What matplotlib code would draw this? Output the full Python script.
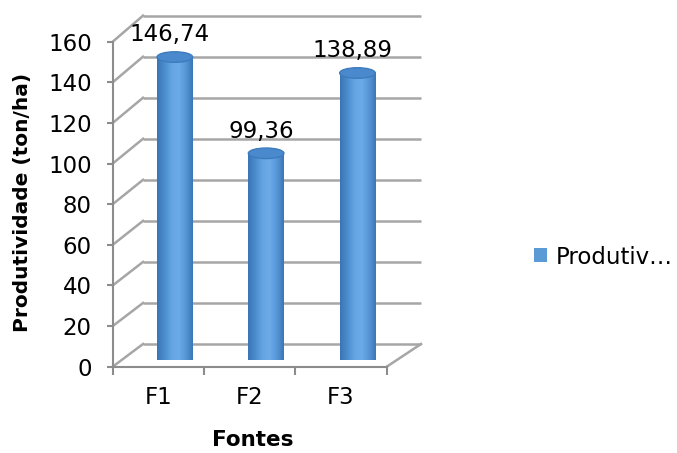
import numpy as np
import matplotlib
matplotlib.use("Agg")
import matplotlib.pyplot as plt
from matplotlib import font_manager
from matplotlib.colors import LinearSegmentedColormap
from matplotlib.patches import Ellipse, PathPatch, Patch
from matplotlib.path import Path

categories = ["F1", "F2", "F3"]
values = [146.74, 99.36, 138.89]
y_ticks = [0, 20, 40, 60, 80, 100, 120, 140, 160]
series_name = "Produtiv…"
x_title = "Fontes"
y_title = "Produtividade (ton/ha)"

GRID = "#a6a6a6"
AXIS = "#8c8c8c"
FS = 16.5

# the axis titles are set in a narrow bold face in the reference
names = {f.name for f in font_manager.fontManager.ttflist}
if "Liberation Sans Narrow" in names:
    title_family, ytitle_size, xtitle_size = "Liberation Sans Narrow", 18.5, 17.5
else:
    title_family, ytitle_size, xtitle_size = "DejaVu Sans", 14.5, 15.5

# pseudo-3d box: front plane is the axes, back wall is shifted up/right
DEPTH_X = 0.332
BACK_RIGHT = 3.376


def back_y(v):
    return v * 1.0103 + 11.18


fig = plt.figure(figsize=(6.77, 4.53), dpi=100)
ax = fig.add_axes([112.7 / 677, 1 - 366.7 / 453, 274 / 677, 325 / 453])

# back wall, left wall and floor lines
for t in y_ticks:
    ax.plot([DEPTH_X, BACK_RIGHT], [back_y(t), back_y(t)], color=GRID, lw=1.8,
            clip_on=False, zorder=1, solid_capstyle="butt")
    ax.plot([0, DEPTH_X], [t, back_y(t)], color=GRID, lw=1.8, clip_on=False, zorder=1)
ax.plot([len(categories), BACK_RIGHT], [0, back_y(0)], color=GRID, lw=1.8, clip_on=False, zorder=1)

# cylinders
cmap = LinearSegmentedColormap.from_list(
    "cyl", ["#3a74b4", "#4b8cce", "#64a4e2", "#6cabe8", "#5797d7", "#3b76b6"])
grad = np.linspace(0, 1, 256).reshape(1, -1)
half_w = 0.195
ell_h = 5.2
base = 5.7
theta = np.linspace(np.pi, 2 * np.pi, 40)

for i, v in enumerate(values):
    cx = i + 0.5 + 0.18
    y0 = base
    y1 = v + base
    arc = np.column_stack([cx + half_w * np.cos(theta), y0 + ell_h / 2 * np.sin(theta)])
    verts = np.vstack([[cx - half_w, y1], arc, [cx + half_w, y1], [cx - half_w, y1]])
    codes = [Path.MOVETO] + [Path.LINETO] * (len(verts) - 2) + [Path.CLOSEPOLY]
    body = PathPatch(Path(verts, codes), facecolor="none", edgecolor="none", clip_on=False)
    ax.add_patch(body)
    im = ax.imshow(grad, cmap=cmap, aspect="auto", extent=(cx - half_w, cx + half_w, y0 - ell_h / 2, y1),
                   zorder=3, clip_on=False)
    im.set_clip_path(body)
    ax.add_patch(Ellipse((cx, y1), 2 * half_w, ell_h, facecolor="#4a89cb", edgecolor="#3c7bbd",
                         lw=1.0, zorder=4, clip_on=False))
    ax.text(i + 0.625, v + 16.6, f"{v:.2f}".replace(".", ","), ha="center", va="center",
            fontsize=FS, color="black", zorder=5)

ax.set_xlim(0, len(categories))
ax.set_ylim(0, 160)
ax.set_facecolor("none")
for side in ["top", "right"]:
    ax.spines[side].set_visible(False)
for side in ["left", "bottom"]:
    ax.spines[side].set_color(AXIS)
    ax.spines[side].set_linewidth(1.5)
    ax.spines[side].set_zorder(2)

ax.set_yticks(y_ticks)
ax.set_yticklabels([str(t) for t in y_ticks], fontsize=FS)
ax.tick_params(axis="y", length=4, width=1.5, color=AXIS, pad=11)

ax.set_xticks(range(len(categories) + 1))
ax.set_xticklabels([])
ax.set_xticks([i + 0.5 for i in range(len(categories))], minor=True)
ax.set_xticklabels(categories, minor=True, fontsize=FS)
ax.tick_params(axis="x", which="major", length=6, width=1.5, color=AXIS)
ax.tick_params(axis="x", which="minor", length=0, pad=14)

fig.text(253 / 677, 1 - 430 / 453, x_title, ha="center", va="top", fontsize=xtitle_size,
         fontweight="bold", family=title_family)
fig.text(23 / 677, 1 - 202 / 453, y_title, ha="center", va="center", rotation=90,
         fontsize=ytitle_size, fontweight="bold", family=title_family)

fig.legend(handles=[Patch(facecolor="#5b9bd5", edgecolor="none")], labels=[series_name],
           loc="center left", bbox_to_anchor=(534 / 677, 1 - 257 / 453), frameon=False,
           handlelength=0.55, handleheight=0.55, handletextpad=0.42, fontsize=FS,
           borderaxespad=0, borderpad=0)

fig.savefig("out.png", dpi=100)
